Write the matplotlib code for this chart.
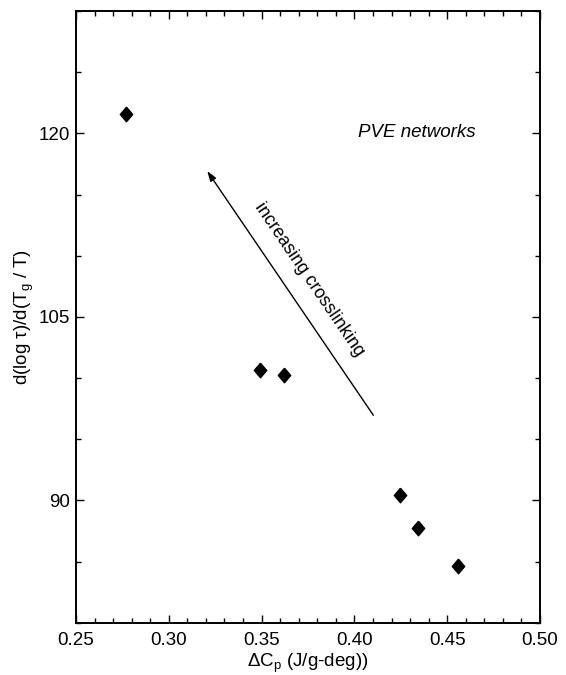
import numpy as np
import matplotlib
matplotlib.use("Agg")
import matplotlib.pyplot as plt
from matplotlib.ticker import MultipleLocator

plt.rcParams['font.family'] = ['Liberation Sans', 'DejaVu Sans']
plt.rcParams['mathtext.fontset'] = 'custom'
plt.rcParams['mathtext.rm'] = 'Liberation Sans'
plt.rcParams['mathtext.it'] = 'Liberation Sans:italic'

# data
delta_cp = [0.2768, 0.3493, 0.3622, 0.4243, 0.4341, 0.4560]
slope = [121.6, 100.65, 100.24, 90.44, 87.71, 84.67]

arrow_tail = (0.4102, 96.96)
arrow_tip = (0.3207, 116.92)
arrow_label = (0.3755, 108.08)
note_pos = (0.4337, 120.05)

xticks = [0.25, 0.30, 0.35, 0.40, 0.45, 0.50]
yticks = [90, 105, 120]

fig = plt.figure(figsize=(5.66, 6.75), dpi=100)
ax = fig.add_axes([76/566, 1 - 622.7/675, (540-76)/566, (622.7-11)/675])

# slightly tall diamond
diamond = [(0, 1), (0.85, 0), (0, -1), (-0.85, 0), (0, 1)]
ax.plot(delta_cp, slope, linestyle='none', marker=diamond, markersize=10.5,
        color='black')

ax.set_xlim(0.25, 0.50)
ax.set_ylim(80, 130)
ax.set_xticks(xticks)
ax.set_xticklabels([f"{v:.2f}" for v in xticks])
ax.set_yticks(yticks)
ax.xaxis.set_minor_locator(MultipleLocator(0.01))
ax.yaxis.set_minor_locator(MultipleLocator(5))

ax.tick_params(which='both', direction='in', top=True, right=True,
               width=1.0, labelsize=13.5, colors='black')
ax.tick_params(which='major', length=6)
ax.tick_params(which='minor', length=3.5)
ax.tick_params(axis='x', which='major', pad=7)
ax.tick_params(axis='y', which='major', pad=4)
for sp in ax.spines.values():
    sp.set_linewidth(1.4)

ax.set_xlabel(r'$\Delta$C$_{\mathrm{p}}$ (J/g-deg))', fontsize=13.5, labelpad=2)
ax.set_ylabel(r'd(log τ)/d(T$_{\mathrm{g}}$ / T)', fontsize=13.5, labelpad=2)

ax.annotate('', xy=arrow_tip, xytext=arrow_tail,
            arrowprops=dict(arrowstyle='-|>,head_length=0.6,head_width=0.2',
                            color='black', lw=1.0, mutation_scale=10,
                            shrinkA=0, shrinkB=0))

p_tail = ax.transData.transform(arrow_tail)
p_tip = ax.transData.transform(arrow_tip)
angle = np.degrees(np.arctan2(p_tail[1] - p_tip[1], p_tail[0] - p_tip[0]))
ax.text(arrow_label[0], arrow_label[1], 'increasing crosslinking', fontsize=13,
        rotation=angle, rotation_mode='anchor', ha='center', va='center')

ax.text(note_pos[0], note_pos[1], 'PVE networks', fontsize=13.5, style='italic',
        ha='center', va='center')

fig.savefig('out.png', dpi=100)
